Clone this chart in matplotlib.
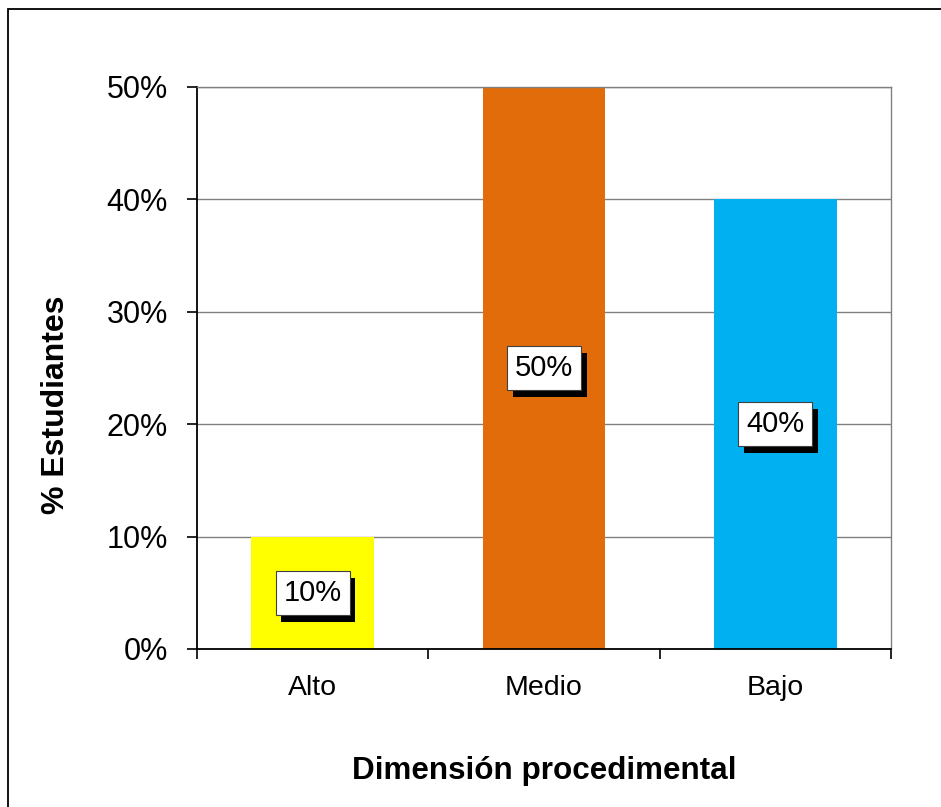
import matplotlib
matplotlib.use("Agg")
import matplotlib.pyplot as plt
import matplotlib.patheffects as pe
from matplotlib.ticker import FixedLocator, PercentFormatter
from matplotlib.patches import Rectangle

categories = ["Alto", "Medio", "Bajo"]
values = [10, 50, 40]
colors = ["#FFFF00", "#E36C0A", "#00B0F0"]
yticks = [0, 10, 20, 30, 40, 50]

plt.rcParams['font.family'] = ['Liberation Sans', 'DejaVu Sans']

fig = plt.figure(figsize=(9.41, 8.07), dpi=100)
# outer frame
fig.patches.append(Rectangle((8/941, -0.1), 1.2, (807-9)/807 + 0.1, transform=fig.transFigure,
                             fill=False, edgecolor="#000000", linewidth=1.3))

ax = fig.add_axes([197/941, (807-649)/807, (891-197)/941, (649-87)/807])
x = list(range(len(categories)))
ax.bar(x, values, width=0.53, color=colors, zorder=2)
ax.set_xlim(-0.5, 2.5)
ax.set_ylim(0, 50)
ax.set_yticks(yticks)
ax.yaxis.set_major_formatter(PercentFormatter(decimals=0))
ax.grid(axis='y', color="#808080", linewidth=1.0, zorder=0)
ax.set_axisbelow(True)

ax.set_xticks(x)
ax.set_xticklabels(categories, fontsize=20.5)
ax.tick_params(axis='x', which='major', length=0, pad=19)
ax.xaxis.set_minor_locator(FixedLocator([-0.5, 0.5, 1.5, 2.5]))
ax.tick_params(axis='x', which='minor', length=7, width=1.2, direction='out')
ax.tick_params(axis='y', length=7, width=1.2, direction='out', labelsize=22, pad=14)

for s in ['left', 'bottom']:
    ax.spines[s].set_color('black')
    ax.spines[s].set_linewidth(1.3)
for s in ['right', 'top']:
    ax.spines[s].set_color('#808080')
    ax.spines[s].set_linewidth(1.0)

ax.set_xlabel("Dimensión procedimental", fontsize=22.6, fontweight='bold', labelpad=39)
ax.set_ylabel("% Estudiantes", fontsize=23, fontweight='bold')
ax.yaxis.label.set_va('center')
ax.yaxis.set_label_coords((56 - 197) / 694, (649 - 405) / 562)

for xi, v in zip(x, values):
    t = ax.text(xi, v / 2, f"{v}%", ha='center', va='center', fontsize=21, color='black', zorder=4,
                bbox=dict(boxstyle='square,pad=0.27', facecolor='white', edgecolor='#404040', linewidth=0.8))
    t.get_bbox_patch().set_path_effects([
        pe.SimplePatchShadow(offset=(4, -5), shadow_rgbFace='black', alpha=1.0),
        pe.Normal()])

fig.savefig("out.png", dpi=100)
